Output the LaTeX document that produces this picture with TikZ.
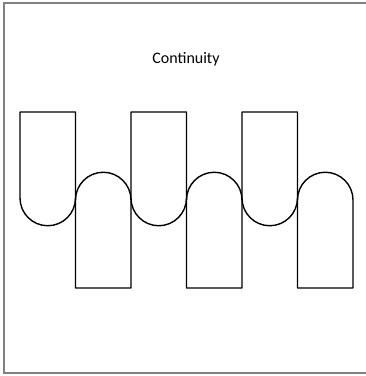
\documentclass[tikz,border=0pt]{standalone}
\usepackage{fontspec}
\setmainfont{Carlito}
\usepackage{tikz}

\tikzset{
  lobe/.style={draw=black, line width=1.4pt, line join=round},
  frameline/.style={draw=gray, line width=2pt}
}

\begin{document}
\begin{tikzpicture}[x=1pt,y=1pt]
  \useasboundingbox (0,0) rectangle (366,376);
  % frame, open on the right
  \draw[frameline] (370,373) -- (4,373) -- (4,3) -- (370,3);
  \node (title) at (186,317) {\fontsize{16}{19}\selectfont Continuity};
  % hanging lobes
  \foreach \x in {20,131,242}
    \draw[lobe] (\x,264) -- (\x,178) arc[start angle=180, end angle=360, radius=27.75pt]
      -- (\x+55.5,264) -- cycle;
  % standing lobes
  \foreach \x in {75.5,186.5,297.5}
    \draw[lobe] (\x,88) -- (\x,176) arc[start angle=180, end angle=0, radius=27.75pt]
      -- (\x+55.5,88) -- cycle;
\end{tikzpicture}
\end{document}
